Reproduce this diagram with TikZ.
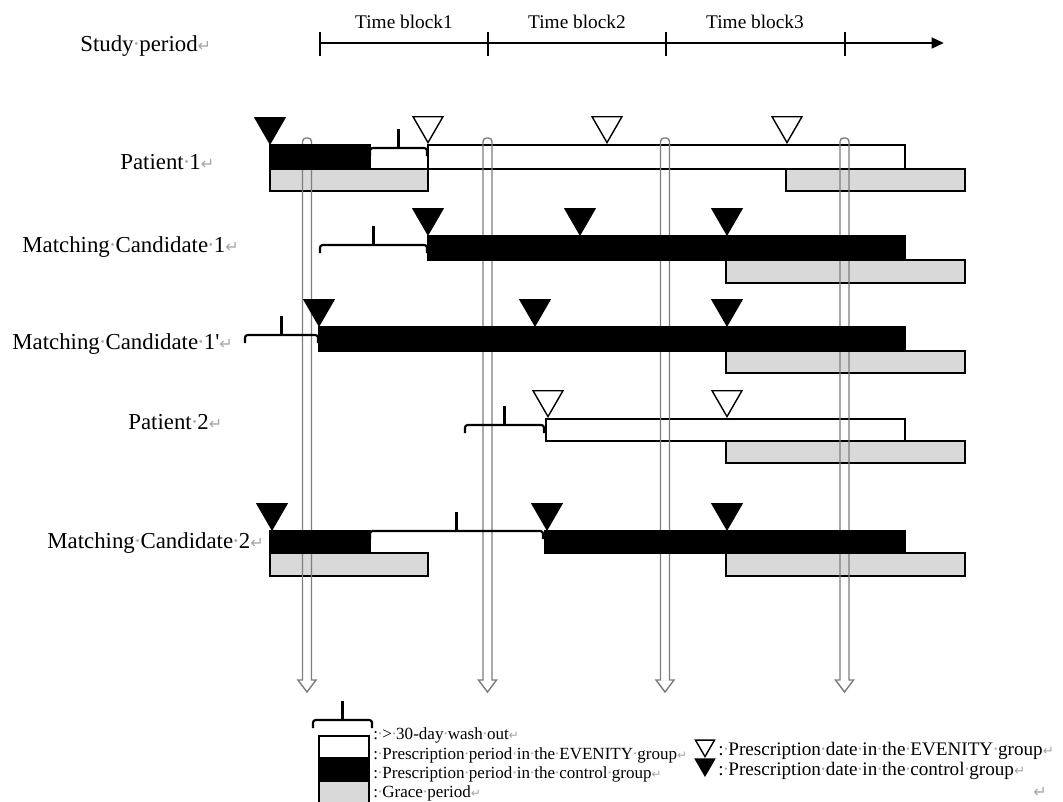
\documentclass[tikz,border=0pt]{standalone}
\usepackage{fontspec}
\usepackage{graphicx}
\setmainfont{Liberation Serif}
\newfontfamily\markfont{DejaVu Sans}
\usetikzlibrary{shapes.geometric,arrows.meta}
\definecolor{gracegray}{RGB}{217,217,217}
\definecolor{arrowgray}{RGB}{125,125,125}
\definecolor{markgray}{RGB}{165,165,165}
\newcommand{\wsp}{\makebox[0.25em]{\textcolor{markgray}{\textperiodcentered}}}
\newcommand{\ret}{{\markfont\textcolor{markgray}{\scalebox{0.7}{↵}}}}
\newcommand{\washout}[3]{%
  \draw[washline,rounded corners=1.5pt] (#1,#3+8) -- (#1,#3) -- (#2,#3) -- (#2,#3+8);
  \draw[washline] ({(#1+#2)/2},#3) -- ({(#1+#2)/2},#3-19);}
\newcommand{\blockarrow}[1]{%
  \draw[varrow] (#1,692) -- (#1-9,680) -- (#1-4.5,680)
    {[rounded corners=2pt] -- (#1-4.5,138) -- (#1+4.5,138)} -- (#1+4.5,680) -- (#1+9,680) -- cycle;}
\begin{document}
\begin{tikzpicture}[x=0.02cm,y=-0.02cm,every node/.style={inner sep=0pt,font=\fontsize{13}{15}\selectfont}]
  \tikzstyle{gracebar}=[draw,line width=1.1pt,fill=gracegray]
  \tikzstyle{evenbar}=[draw,line width=1.1pt,fill=white]
  \tikzstyle{ctrlbar}=[draw,line width=1.1pt,fill=black]
  \tikzstyle{washline}=[line width=1.2pt]
  \tikzstyle{varrow}=[draw=arrowgray,line width=0.8pt]
  \tikzstyle{tri}=[regular polygon,regular polygon sides=3,shape border rotate=180,minimum size=0.69cm,anchor=corner 1,draw,line width=0.8pt]
  \tikzstyle{trictrl}=[tri,fill=black]
  \tikzstyle{trieven}=[tri,fill=white]
  \tikzstyle{lbl}=[anchor=west]
  \tikzstyle{legtext}=[anchor=west,font=\fontsize{9.7}{11}\selectfont]
  \useasboundingbox (0,0) rectangle (1063,802);

  % study period
  \node[lbl] (study) at (80,46) {Study\wsp period\ret};
  \coordinate (tstart) at (320,43);
  \coordinate (tend) at (944,43);
  \draw[line width=1.5pt,-{Triangle[length=7pt,width=6pt]}] (tstart) -- (tend);
  \draw[line width=1.4pt] (320,32) -- (320,56) (488,32) -- (488,56) (666,32) -- (666,56) (845,32) -- (845,56);
  \node[font=\fontsize{11}{13}\selectfont] (tb1) at (404,22) {Time block1};
  \node[font=\fontsize{11}{13}\selectfont] (tb2) at (577,22) {Time block2};
  \node[font=\fontsize{11}{13}\selectfont] (tb3) at (755,22) {Time block3};

  % row labels
  \node[lbl] (p1) at (120,162) {Patient\wsp 1\ret};
  \node[lbl] (mc1) at (22,247) {Matching\wsp Candidate\wsp 1\ret};
  \node[lbl] (mc1b) at (12,344) {Matching\wsp Candidate\wsp 1\textquotesingle\ret};
  \node[lbl] (p2) at (128,422) {Patient\wsp 2\ret};
  \node[lbl] (mc2) at (47,543) {Matching\wsp Candidate\wsp 2\ret};

  % grace and EVENITY periods
  \draw[gracebar] (270,169) rectangle (428,191);
  \draw[gracebar] (786,169) rectangle (965,191);
  \draw[evenbar] (428,145) rectangle (905,169);
  \draw[gracebar] (726,260) rectangle (965,283);
  \draw[gracebar] (726,351) rectangle (965,373);
  \draw[gracebar] (726,441) rectangle (965,463);
  \draw[evenbar] (546,419) rectangle (905,441);
  \draw[gracebar] (270,553) rectangle (428,576);
  \draw[gracebar] (726,553) rectangle (965,576);

  % time block borders
  \blockarrow{307}
  \blockarrow{487.5}
  \blockarrow{665}
  \blockarrow{844.5}

  % control periods
  \draw[ctrlbar] (270,145) rectangle (370,169);
  \draw[ctrlbar] (428,236) rectangle (905,260);
  \draw[ctrlbar] (319,327) rectangle (905,351);
  \draw[ctrlbar] (270,531) rectangle (370,553);
  \draw[ctrlbar] (545,531) rectangle (905,553);

  % wash out
  \washout{370}{427}{148}
  \washout{320}{427}{245}
  \washout{245}{318}{335}
  \washout{465}{544}{425}
  \washout{370}{543}{531}

  % prescription dates
  \node[trictrl] (p1a) at (270,145) {};
  \node[trieven] (p1b) at (428,144) {};
  \node[trieven] (p1c) at (607,144) {};
  \node[trieven] (p1d) at (787,144) {};
  \node[trictrl] (mc1a) at (428,236) {};
  \node[trictrl] (mc1b) at (580,236) {};
  \node[trictrl] (mc1c) at (727,236) {};
  \node[trictrl] (mc1ba) at (319,327) {};
  \node[trictrl] (mc1bb) at (535,327) {};
  \node[trictrl] (mc1bc) at (727,327) {};
  \node[trieven] (p2a) at (548,418) {};
  \node[trieven] (p2b) at (727,418) {};
  \node[trictrl] (mc2a) at (272,531) {};
  \node[trictrl] (mc2b) at (547,531) {};
  \node[trictrl] (mc2c) at (727,531) {};

  % legend
  \washout{313}{372}{720}
  \draw[evenbar] (319,736) rectangle (369,758);
  \draw[ctrlbar] (319,758) rectangle (369,781);
  \draw[gracebar] (319,781) rectangle (369,808);
  \node[legtext] (lw) at (373,735) {:\wsp>\wsp 30-day\wsp wash\wsp out\ret};
  \node[legtext] (le) at (373,755) {:\wsp Prescription\wsp period\wsp in\wsp the\wsp EVENITY\wsp group\ret};
  \node[legtext] (lc) at (373,774) {:\wsp Prescription\wsp period\wsp in\wsp the\wsp control\wsp group\ret};
  \node[legtext] (lg) at (373,793) {:\wsp Grace\wsp period\ret};
  \node[trieven,minimum size=0.44cm] (ke) at (705,758) {};
  \node[trictrl,minimum size=0.44cm] (kc) at (705,777) {};
  \node[legtext,font=\fontsize{10.9}{13}\selectfont] (re) at (718,751) {:\wsp Prescription\wsp date\wsp in\wsp the\wsp EVENITY\wsp group\ret};
  \node[legtext,font=\fontsize{10.9}{13}\selectfont] (rc) at (718,771) {:\wsp Prescription\wsp date\wsp in\wsp the\wsp control\wsp group\ret};
  \node (lastret) at (1040,792) {\ret};
\end{tikzpicture}
\end{document}
